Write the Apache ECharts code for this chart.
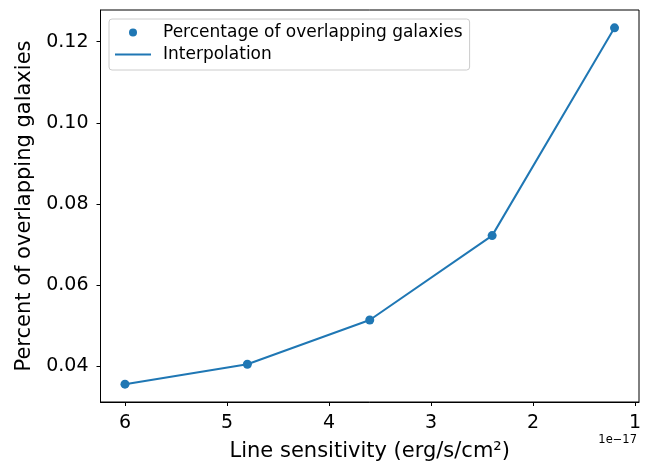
<!DOCTYPE html>
<html>
<head>
<meta charset="utf-8">
<script src="https://cdn.jsdelivr.net/npm/echarts@6/dist/echarts.min.js"></script>
<style>
  html, body { margin: 0; padding: 0; background: #fff; }
  #chart { width: 649px; height: 462px; }
</style>
</head>
<body>
<div id="chart"></div>
<script>
// Line sensitivity in units of 1e-17 erg/s/cm^2
const sensitivity = [6.0, 4.8, 3.6, 2.4, 1.2];
// Fraction of galaxies overlapping
const overlapFraction = [0.0356, 0.0405, 0.0514, 0.0722, 0.1234];
const xTicks = [1, 2, 3, 4, 5, 6];
const yTicks = [0.04, 0.06, 0.08, 0.10, 0.12];

const pairs = sensitivity.map((s, i) => [s, overlapFraction[i]]);
const blue = '#1f77b4';
const font = 'DejaVu Sans';

const chart = echarts.init(document.getElementById('chart'), null, { renderer: 'canvas' });
chart.setOption({
  animation: false,
  backgroundColor: '#fff',
  textStyle: { fontFamily: font, color: '#000' },
  grid: {
    left: 100.5, right: 10, top: 10, bottom: 60,
    containLabel: false, outerBoundsMode: 'none',
    show: true, borderColor: '#000', borderWidth: 1, backgroundColor: 'transparent'
  },
  xAxis: {
    type: 'value', inverse: true, min: 0.96, max: 6.24,
    name: 'Line sensitivity (erg/s/cm²)', nameLocation: 'middle', nameGap: 39,
    nameTextStyle: { fontSize: 21, color: '#000', fontFamily: font },
    axisLine: { show: true, lineStyle: { color: '#000', width: 1 } },
    axisTick: { show: true, inside: false, length: 4, customValues: xTicks, lineStyle: { color: '#000' } },
    axisLabel: { customValues: xTicks, fontSize: 19, color: '#000', margin: 12, fontFamily: font,
      formatter: v => String(v) },
    splitLine: { show: false }
  },
  yAxis: {
    type: 'value', min: 0.0312, max: 0.1278,
    name: 'Percent of overlapping galaxies', nameLocation: 'middle', nameGap: 60,
    nameTextStyle: { fontSize: 21, color: '#000', fontFamily: font },
    axisLine: { show: true, lineStyle: { color: '#000', width: 1 } },
    axisTick: { show: true, inside: false, length: 4, customValues: yTicks, lineStyle: { color: '#000' } },
    axisLabel: { customValues: yTicks, fontSize: 19, color: '#000', margin: 12, fontFamily: font,
      formatter: v => v.toFixed(2) },
    splitLine: { show: false }
  },
  legend: {
    orient: 'vertical', left: 109, top: 19,
    padding: [5, 7, 7, 6],
    itemWidth: 36, itemHeight: 8, itemGap: 5,
    backgroundColor: 'rgba(255,255,255,0.8)',
    borderColor: '#cccccc', borderWidth: 1, borderRadius: 3,
    textStyle: { fontSize: 17, color: '#000', fontFamily: font, padding: [0, 0, 0, 7] },
    data: [
      { name: 'Percentage of overlapping galaxies', icon: 'circle' },
      { name: 'Interpolation', icon: 'path://M0,0h40v2h-40z' }
    ]
  },
  graphic: [{
    type: 'text', right: 12, top: 434,
    style: { text: '1e\u221217', fontSize: 11.5, fill: '#000', fontFamily: font }
  }],
  series: [
    {
      name: 'Interpolation', type: 'line', data: pairs,
      symbol: 'none', showSymbol: false,
      lineStyle: { color: blue, width: 2 }, itemStyle: { color: blue }, z: 2
    },
    {
      name: 'Percentage of overlapping galaxies', type: 'scatter', data: pairs,
      symbol: 'circle', symbolSize: 9, itemStyle: { color: blue, opacity: 1 }, z: 3
    }
  ]
});
</script>
</body>
</html>
